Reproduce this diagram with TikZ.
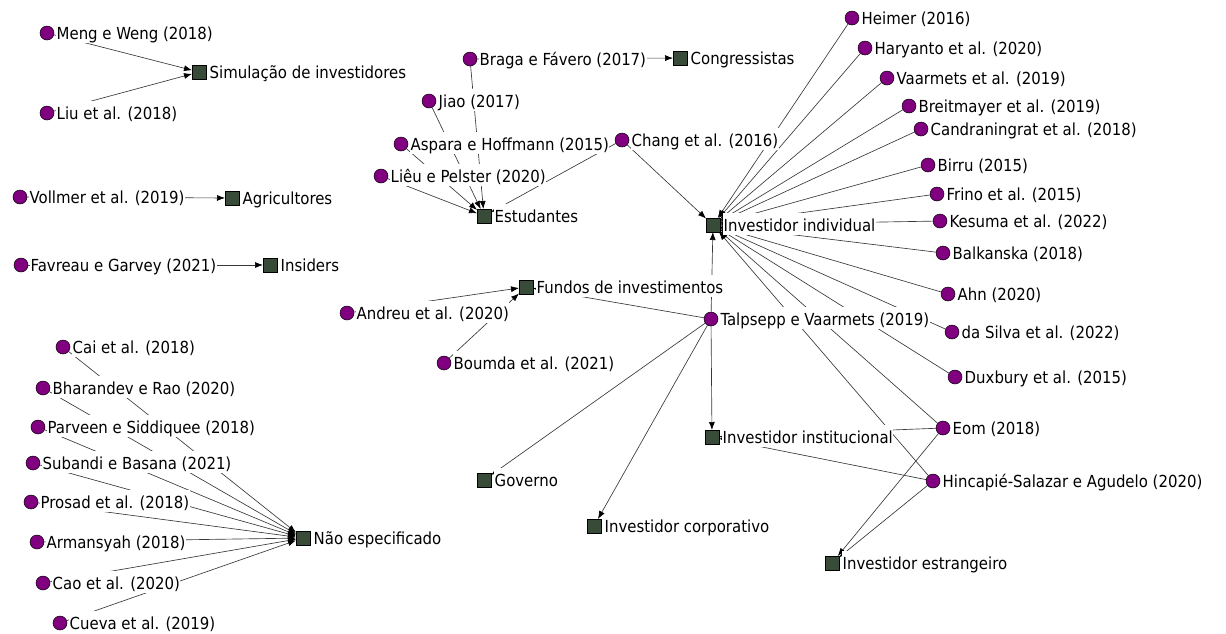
\documentclass[tikz,border=0pt]{standalone}
\usepackage{fontspec}
\setmainfont{DejaVu Sans Condensed}
\usetikzlibrary{arrows.meta}
\definecolor{studypurple}{RGB}{128,0,128}
\definecolor{groupgreen}{RGB}{56,74,56}
\pgfdeclarelayer{edges}
\pgfsetlayers{edges,main}
\tikzset{
  study/.style={circle, draw=black, fill=studypurple, minimum size=14pt, inner sep=0pt, line width=0.5pt},
  group/.style={rectangle, draw=black, fill=groupgreen, minimum size=13.5pt, inner sep=0pt, line width=0.5pt},
  link/.style={draw=black!78, line width=0.65pt, -{Latex[length=8pt,width=6pt,color=black]}},
  tag/.style={anchor=base west, fill=white, inner xsep=0.5pt, inner ysep=0pt,
              text height=18.5pt, text depth=3.5pt, font=\fontsize{16.6}{18}\selectfont}
}
\begin{document}
\begin{tikzpicture}[x=1pt, y=-1pt]
\useasboundingbox (0,0) rectangle (1226,633);

% studies (circles) with their labels
\foreach \n/\x/\y/\t in {
  mw/47/33/{Meng e Weng (2018)},
  liu/47/113/{Liu et al. (2018)},
  vol/20/197/{Vollmer et al. (2019)},
  fav/21/265/{Favreau e Garvey (2021)},
  cai/63/347/{Cai et al. (2018)},
  bha/43/388/{Bharandev e Rao (2020)},
  par/38/427/{Parveen e Siddiquee (2018)},
  sub/33/463/{Subandi e Basana (2021)},
  pro/31/502/{Prosad et al. (2018)},
  arm/37/542/{Armansyah (2018)},
  cao/43/583/{Cao et al. (2020)},
  cue/60/623/{Cueva et al. (2019)},
  and/347/313/{Andreu et al. (2020)},
  bou/444/363/{Boumda et al. (2021)},
  bra/470/59/{Braga e Fávero (2017)},
  jia/429/101/{Jiao (2017)},
  asp/401/144/{Aspara e Hoffmann (2015)},
  lie/381/176/{Liêu e Pelster (2020)},
  cha/622/140/{Chang et al. (2016)},
  hei/852/18/{Heimer (2016)},
  har/865/48/{Haryanto et al. (2020)},
  vaa/887/78/{Vaarmets et al. (2019)},
  bre/909/106/{Breitmayer et al. (2019)},
  can/921/129/{Candraningrat et al. (2018)},
  bir/928/165/{Birru (2015)},
  fri/937/194/{Frino et al. (2015)},
  kes/940/221/{Kesuma et al. (2022)},
  bal/943/253/{Balkanska (2018)},
  ahn/948/294/{Ahn (2020)},
  das/952/332/{da Silva et al. (2022)},
  dux/955/377/{Duxbury et al. (2015)},
  tal/711/319/{Talpsepp e Vaarmets (2019)},
  eom/943/428/{Eom (2018)},
  hin/933/481/{Hincapié-Salazar e Agudelo (2020)}}
{
  \node[study] (\n) at (\x,\y) {};
  \node[tag] (\n-t) at ([shift={(9pt,-6.5pt)}]\n.center) {\t};
}

% investor groups (squares) with their labels
\foreach \n/\x/\y/\t in {
  sim/199/72/{Simulação de investidores},
  agr/232/198/{Agricultores},
  ins/270/265/{Insiders},
  con/680/58/{Congressistas},
  stu/484/216/{Estudantes},
  ind/713/225/{Investidor individual},
  fun/526/287/{Fundos de investimentos},
  ist/712/437/{Investidor institucional},
  gov/484/480/{Governo},
  cor/594/526/{Investidor corporativo},
  fgn/832/563/{Investidor estrangeiro},
  nao/303/538/{Não especificado}}
{
  \node[group] (\n) at (\x,\y) {};
  \node[tag] (\n-t) at ([shift={(10pt,-6.5pt)}]\n.center) {\t};
}

% study -> group links, kept behind the labels
\begin{pgfonlayer}{edges}
\foreach \a/\b in {
  mw/sim, liu/sim, vol/agr, fav/ins,
  bra/con, bra/stu, jia/stu, asp/stu, lie/stu, cha/stu,
  cha/ind, hei/ind, har/ind, vaa/ind, bre/ind, can/ind, bir/ind, fri/ind,
  kes/ind, bal/ind, ahn/ind, das/ind, dux/ind,
  tal/ind, tal/fun, tal/ist, tal/gov, tal/cor,
  and/fun, bou/fun,
  eom/ind, eom/ist, eom/fgn,
  hin/ind, hin/ist, hin/fgn,
  cai/nao, bha/nao, par/nao, sub/nao, pro/nao, arm/nao, cao/nao, cue/nao}
{
  \draw[link] (\a) -- (\b);
}
\end{pgfonlayer}
\end{tikzpicture}
\end{document}
